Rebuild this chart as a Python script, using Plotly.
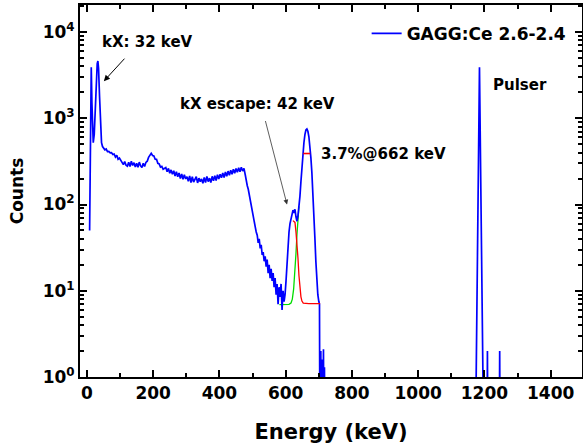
import plotly.graph_objects as go

FONT = "DejaVu Sans"

# ---------------- data ----------------
# low-energy part: noise spike + kX peak
low_energy = [8, 11, 13, 15, 17, 19, 22, 25, 28, 31, 33, 35, 38, 41, 44, 47]
low_counts = [50, 2000, 3900, 1500, 560, 520, 650, 1200, 2800, 4300, 4600, 3800, 1800, 800, 520, 470]

# Compton continuum, 4 keV bins from 50 to 474 keV
cont_energy = list(range(50, 478, 4))
cont_counts = [
    455, 430, 440, 410, 412, 398, 400, 380, 385, 355,
    372, 335, 345, 322, 300, 290, 315, 285, 278, 308,
    276, 318, 284, 305, 272, 300, 270, 310, 280, 268,
    300, 276, 308, 318, 352, 368, 392, 370, 366, 335,
    334, 300, 296, 272, 276, 256, 262, 268, 240, 262,
    230, 252, 224, 246, 214, 240, 210, 232, 200, 226,
    196, 222, 198, 210, 186, 214, 180, 210, 182, 200,
    210, 178, 202, 184, 198, 176, 206, 180, 212, 184,
    202, 180, 212, 188, 216, 190, 222, 198, 224, 204,
    232, 206, 238, 212, 244, 218, 250, 224, 256, 230,
    262, 236, 266, 240, 270, 244, 262,
]

# Compton edge fall-off
edge_energy = [478, 481, 484, 487, 490, 493, 496, 499, 502, 505, 508, 511, 514, 517,
               520, 523, 526, 529, 532, 535, 538, 541, 544, 547, 550, 553, 556, 559,
               562, 565, 568, 571, 574, 577, 580, 583, 586, 589, 592, 595, 598]
edge_counts = [220, 185, 165, 150, 128, 112, 98, 84, 74, 62, 55, 48, 44, 36,
               40, 31, 34, 26, 28, 22, 25, 19, 23, 16, 20, 14, 18, 13,
               16, 11, 14, 9, 12, 7, 11, 8.5, 12, 6, 10, 7.5, 9]

# escape peak + 662 keV photopeak
peak_energy = [601, 604, 607, 610, 613, 616, 619, 622, 625, 628, 631, 634, 637, 640,
               643, 646, 649, 652, 655, 658, 661, 664, 667, 670, 673, 676, 679, 682,
               685, 688, 691, 694, 697, 700, 702]
peak_counts = [13, 22, 34, 48, 60, 70, 78, 86, 80, 88, 72, 64, 74, 92,
               125, 185, 275, 390, 520, 645, 730, 750, 705, 610, 490, 350, 235, 145,
               80, 42, 22, 13, 9, 7.5, 7]

# empty channels (0.3 = zero counts, below the axis) with a few single-count bins
tail_energy = [703, 706, 707, 709, 710, 711, 713, 714, 715, 717, 718, 1174]
tail_counts = [0.3, 2, 0.3, 0.3, 1.6, 0.3, 0.3, 2.1, 0.3, 1.3, 0.3, 0.3]

# pulser peak and stray counts
pulser_energy = [1175, 1185, 1196, 1197, 1208, 1209, 1210, 1245, 1246, 1247, 1494]
pulser_counts = [1, 3900, 1, 0.3, 0.3, 2, 0.3, 0.3, 2, 0.3, 0.3]

# Gaussian fits
green_energy = [581, 590, 600, 610, 616, 620, 624, 628, 631, 634, 637, 640]
green_counts = [6.9, 6.9, 6.9, 6.95, 7.2, 8, 10.5, 16, 27, 45, 68, 95]
red_energy = [622, 625, 628, 631, 634, 637, 640, 643, 646, 649, 653, 670, 704]
red_counts = [65, 64, 62, 48, 36, 24, 15, 11, 8.5, 7.6, 7.2, 7.1, 7.1]
fwhm_energy = [653, 674]
fwhm_counts = [390, 390]

x_ticks = [0, 200, 400, 600, 800, 1000, 1200, 1400]
x_minor = [100, 300, 500, 700, 900, 1100, 1300]
y_ticks = [1, 10, 100, 1000, 10000]
y_ticktext = ["10<sup>0</sup>", "10<sup>1</sup>", "10<sup>2</sup>", "10<sup>3</sup>", "10<sup>4</sup>"]
y_minor = [m * d for d in (1, 10, 100, 1000, 10000) for m in range(2, 10)]

energy = low_energy + cont_energy + edge_energy + peak_energy + tail_energy + pulser_energy
counts = low_counts + cont_counts + edge_counts + peak_counts + tail_counts + pulser_counts
assert len(energy) == len(counts)

# ---------------- figure ----------------
fig = go.Figure()
fig.add_trace(go.Scatter(x=green_energy, y=green_counts, mode="lines",
                         line=dict(color="#00dd00", width=1.3), showlegend=False))
fig.add_trace(go.Scatter(x=energy, y=counts, mode="lines", name="GAGG:Ce 2.6-2.4",
                         line=dict(color="#0000ff", width=1.7)))
fig.add_trace(go.Scatter(x=red_energy, y=red_counts, mode="lines",
                         line=dict(color="#ff0000", width=1.3), showlegend=False))
fig.add_trace(go.Scatter(x=fwhm_energy, y=fwhm_counts, mode="lines",
                         line=dict(color="#ff0000", width=1.6), showlegend=False))

axis_font = dict(family=FONT, size=17, color="black", weight="bold")

fig.update_xaxes(
    range=[-21, 1494.5], tickvals=x_ticks, ticks="inside", ticklen=7, tickwidth=2,
    tickcolor="black", showline=True, linewidth=2, linecolor="black", mirror="allticks",
    showgrid=False, zeroline=False, tickfont=axis_font, automargin=False,
    minor=dict(tickvals=x_minor, ticks="inside", ticklen=4, tickwidth=2, tickcolor="black", showgrid=False),
    title=dict(text="Energy (keV)", font=dict(family=FONT, size=21, color="black", weight="bold"), standoff=22),
)
fig.update_yaxes(
    type="log", range=[0, 4.313], tickvals=y_ticks, ticktext=y_ticktext, ticks="inside",
    ticklen=7, tickwidth=2, tickcolor="black", showline=True, linewidth=2, linecolor="black",
    mirror="allticks", showgrid=False, zeroline=False, tickfont=axis_font, automargin=False,
    minor=dict(tickvals=y_minor, ticks="inside", ticklen=4, tickwidth=1.5, tickcolor="black", showgrid=False),
    title=dict(text="Counts", font=dict(family=FONT, size=17, color="black", weight="bold"), standoff=15),
)

ann_font = dict(family=FONT, size=15, color="black", weight="bold")
fig.add_annotation(x=40, y=3.88, text="kX: 32 keV", showarrow=False, xanchor="left", yanchor="middle", font=ann_font)
fig.add_annotation(x=51, y=3.43, ax=22, ay=-24, text="", showarrow=True, arrowhead=2,
                   arrowsize=1.2, arrowwidth=1, arrowcolor="black", standoff=0)
fig.add_annotation(x=275, y=3.17, text="kX escape: 42 keV", showarrow=False, xanchor="left", yanchor="middle", font=ann_font)
fig.add_annotation(x=604, y=2.0, ax=-22, ay=-85, text="", showarrow=True, arrowhead=2,
                   arrowsize=1.2, arrowwidth=0.8, arrowcolor="#333333", standoff=0)
fig.add_annotation(x=701, y=2.58, text="3.7%@662 keV", showarrow=False, xanchor="left", yanchor="middle", font=ann_font)
fig.add_annotation(x=1220, y=3.38, text="Pulser", showarrow=False, xanchor="left", yanchor="middle", font=ann_font)

fig.update_layout(
    width=583, height=445, margin=dict(l=80, r=1, t=5, b=68, autoexpand=False),
    plot_bgcolor="white", paper_bgcolor="white",
    showlegend=True,
    legend=dict(x=0.571, y=0.971, xanchor="left", yanchor="top", bgcolor="rgba(0,0,0,0)",
                font=dict(family=FONT, size=17, color="black", weight="bold"), itemwidth=30),
)

fig.write_html("out.html", config={"displayModeBar": False},
               post_script="document.body.style.margin='0';")
